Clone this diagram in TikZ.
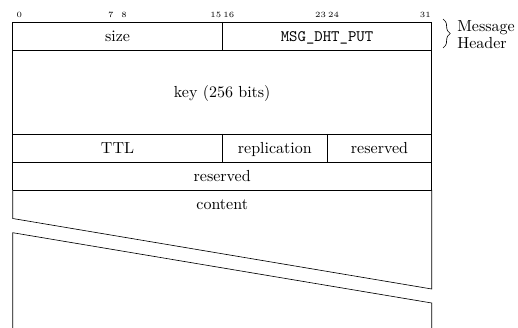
\documentclass[tikz,border=0pt]{standalone}
\usetikzlibrary{decorations.pathreplacing}
\begin{document}
\begin{tikzpicture}[x=0.625pt,y=-0.625pt,
  rule/.style={line width=0.4pt,draw=black},
  fieldtext/.style={anchor=base,inner sep=0pt,font=\normalsize},
  bitnum/.style={anchor=base,inner sep=0pt,font=\tiny},
  sidetext/.style={anchor=base west,inner sep=0pt,font=\normalsize}]
\useasboundingbox (0,0) rectangle (518,328);
% bit numbers
\foreach \b/\n in {0/b0,7/b7,8/b8,15/b15,16/b16,23/b23,24/b24,31/b31}{
  \node[bitnum] (\n) at ({12.7+13.1*(\b+0.5)},17.7) {\b};
}
% frame rows
\draw[rule] (12.7,190) -- (12.7,22) -- (431.7,22) -- (431.7,190);
\draw[rule] (12.7,50) -- (431.7,50);
\draw[rule] (222.3,22) -- (222.3,50);
\draw[rule] (12.7,134) -- (431.7,134);
\draw[rule] (12.7,162) -- (431.7,162);
\draw[rule] (222.3,134) -- (222.3,162);
\draw[rule] (327.3,134) -- (327.3,162);
\draw[rule] (12.7,190) -- (431.7,190);
% content with break
\draw[rule] (12.7,190) -- (12.7,218.5) -- (431.7,289) -- (431.7,190);
\draw[rule] (12.7,328) -- (12.7,232.7) -- (431.7,303) -- (431.7,328);
% field labels
\node[fieldtext] (size) at (117.5,41.5) {size};
\node[fieldtext] (msg) at (327,41.5) {\texttt{MSG\_DHT\_PUT}};
\node[fieldtext] (key) at (222.2,97.5) {key (256 bits)};
\node[fieldtext] (ttl) at (117.5,153.5) {TTL};
\node[fieldtext] (repl) at (274.8,153.5) {replication};
\node[fieldtext] (res) at (379.5,153.5) {reserved};
\node[fieldtext] (res2) at (222.2,181.5) {reserved};
\node[fieldtext] (cont) at (222.2,209.5) {content};
% header bracket
\coordinate (bt) at (443,19);
\coordinate (bb) at (443,48);
\draw[rule,decorate,decoration={brace,amplitude=4.5pt}] (bt) -- (bb);
\node[sidetext] (hm) at (457,32) {Message};
\node[sidetext] (hh) at (457,48.8) {Header};
\end{tikzpicture}
\end{document}
